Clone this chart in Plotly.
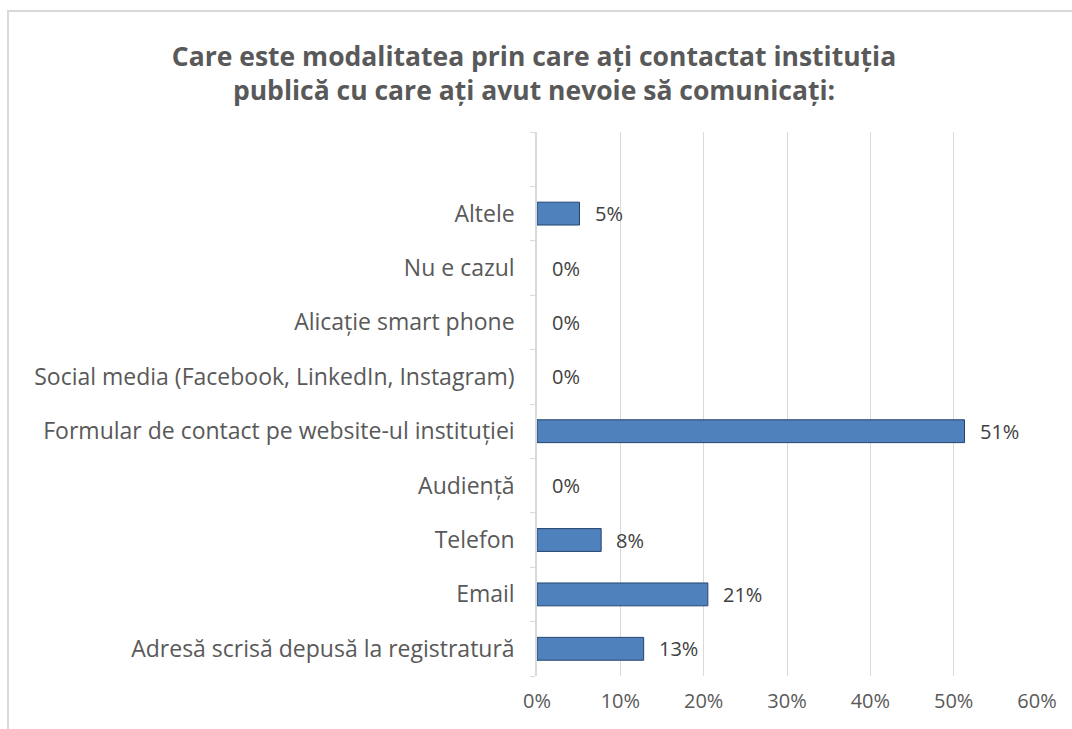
import plotly.graph_objects as go

categories = [
    "Adresă scrisă depusă la registratură",
    "Email",
    "Telefon",
    "Audiență",
    "Formular de contact pe website-ul instituției",
    "Social media (Facebook, LinkedIn, Instagram)",
    "Alicație smart phone",
    "Nu e cazul",
    "Altele",
    " ",
]
values = [12.8, 20.5, 7.7, 0, 51.3, 0, 0, 0, 5.1, None]
labels = ["13%", "21%", "8%", "0%", "51%", "0%", "0%", "0%", "5%", ""]
x_ticks = [0, 10, 20, 30, 40, 50, 60]
x_tick_labels = ["0%", "10%", "20%", "30%", "40%", "50%", "60%"]

FONT = "Open Sans"

line_widths = [1 if (v is not None and v > 0) else 0 for v in values]

fig = go.Figure()
fig.add_trace(go.Bar(
    y=categories,
    x=values,
    orientation="h",
    marker=dict(color="#4F81BD", line=dict(color="#23446E", width=line_widths)),
    hoverinfo="skip",
))

for cat, v, lab in zip(categories, values, labels):
    if v is None or lab == "":
        continue
    fig.add_annotation(
        x=v, y=cat, xref="x", yref="y",
        text=lab, showarrow=False,
        xanchor="left", yanchor="middle", xshift=13,
        font=dict(family=FONT, size=20, color="#404040"),
    )

fig.update_layout(
    width=1072,
    height=729,
    paper_bgcolor="white",
    plot_bgcolor="white",
    margin=dict(l=537, r=35, t=132, b=53),
    bargap=0.58,
    showlegend=False,
    title=dict(
        text="<b>Care este modalitatea prin care ați contactat instituția<br>publică cu care ați avut nevoie să comunicați:</b>",
        x=534 / 1072, xref="container", xanchor="center",
        y=0.91, yref="container", yanchor="middle",
        font=dict(family=FONT, size=26.5, color="#595959"),
    ),
    font=dict(family=FONT, size=18, color="#595959"),
    shapes=[dict(
        type="rect", xref="paper", yref="paper",
        x0=-1.058, x1=1.08, y0=-0.12, y1=1.2224,
        line=dict(color="#D9D9D9", width=2), fillcolor="rgba(0,0,0,0)", layer="below",
    )],
)

fig.update_xaxes(
    range=[0, 60],
    tickvals=x_ticks,
    ticktext=x_tick_labels,
    showgrid=True,
    gridcolor="#D9D9D9",
    gridwidth=1,
    zeroline=False,
    showline=False,
    ticks="",
    ticklabelstandoff=11,
    tickfont=dict(family=FONT, size=20, color="#595959"),
    fixedrange=True,
)
fig.update_yaxes(
    type="category",
    categoryorder="array",
    categoryarray=categories,
    showline=True,
    linecolor="#D9D9D9",
    linewidth=1.5,
    ticks="outside",
    ticklen=5,
    tickcolor="#D9D9D9",
    tickson="boundaries",
    showgrid=False,
    tickfont=dict(family=FONT, size=23, color="#595959"),
    ticklabelstandoff=16,
    fixedrange=True,
)

fig.write_html("out.html")
